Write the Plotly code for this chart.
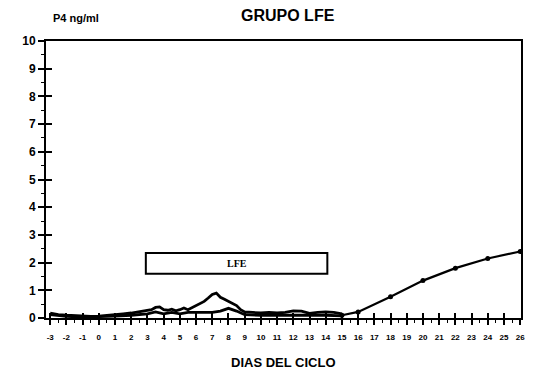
import plotly.graph_objects as go

# --- data ---
days_upper = [-3, -2.5, -2, -1.5, -1, -0.5, 0, 0.5, 1, 1.5, 2, 2.5, 3, 3.25, 3.5, 3.75, 4, 4.25, 4.5,
              4.75, 5, 5.25, 5.5, 5.75, 6, 6.25, 6.5, 6.75, 7, 7.25, 7.5, 7.75, 8, 8.25, 8.5, 8.75,
              9, 9.5, 10, 10.5, 11, 11.5, 12, 12.5, 13, 13.5, 14, 14.5, 15]
p4_upper = [0.18, 0.12, 0.10, 0.08, 0.07, 0.06, 0.07, 0.09, 0.12, 0.15, 0.18, 0.22, 0.28, 0.30, 0.38,
            0.40, 0.30, 0.28, 0.32, 0.26, 0.30, 0.36, 0.30, 0.38, 0.45, 0.52, 0.60, 0.72, 0.85, 0.90,
            0.75, 0.68, 0.60, 0.50, 0.45, 0.30, 0.22, 0.20, 0.18, 0.20, 0.18, 0.20, 0.26, 0.25, 0.17,
            0.20, 0.22, 0.20, 0.15]
days_lower = [-3, -2, -1, 0, 1, 2, 3, 3.5, 4, 4.5, 5, 5.5, 6, 6.5, 7, 7.5, 8, 8.5, 9, 10, 11, 12, 13,
              14, 15]
p4_lower = [0.12, 0.06, 0.03, 0.04, 0.07, 0.10, 0.15, 0.22, 0.15, 0.20, 0.15, 0.20, 0.20, 0.22, 0.20,
            0.25, 0.35, 0.25, 0.12, 0.10, 0.10, 0.12, 0.10, 0.10, 0.08]
days_late = [15, 16, 18, 20, 22, 24, 26]
p4_late = [0.10, 0.22, 0.77, 1.35, 1.80, 2.15, 2.40]

lfe_start, lfe_end = 2.9, 14.1
lfe_low, lfe_high = 1.6, 2.35
lfe_label = "LFE"

x_ticks = list(range(-3, 27))
y_ticks = list(range(0, 11))

title = "GRUPO LFE"
y_title = "P4 ng/ml"
x_title = "DIAS DEL CICLO"

FONT = "Liberation Sans"

fig = go.Figure()
fig.add_trace(go.Scatter(x=days_upper, y=p4_upper, mode="lines",
                         line=dict(color="black", width=2.8), showlegend=False))
fig.add_trace(go.Scatter(x=days_lower, y=p4_lower, mode="lines",
                         line=dict(color="black", width=2.8), showlegend=False))
fig.add_trace(go.Scatter(x=days_late, y=p4_late, mode="lines+markers",
                         line=dict(color="black", width=2.2),
                         marker=dict(color="black", size=5), showlegend=False))
# dummy trace on overlaid axes for crossing ticks
fig.add_trace(go.Scatter(x=[None], y=[None], xaxis="x2", yaxis="y2", showlegend=False))

fig.add_shape(type="rect", x0=lfe_start, x1=lfe_end, y0=lfe_low, y1=lfe_high,
              line=dict(color="black", width=2), fillcolor="white")
fig.add_annotation(x=(lfe_start + lfe_end) / 2, y=(lfe_low + lfe_high) / 2, text="<b>" + lfe_label + "</b>",
                   showarrow=False, font=dict(family="Liberation Serif", size=10, color="black"))

xr = [-3.26, 26.05]
yr = [0, 10]
W, H = 525, 362
fig.update_layout(
    width=W, height=H,
    margin=dict(l=38, r=8, t=33, b=52),
    paper_bgcolor="white", plot_bgcolor="white",
    xaxis=dict(range=xr, showgrid=False, zeroline=False, showline=True, linecolor="black", linewidth=2,
               mirror=True, tickvals=x_ticks, ticktext=[f"<b>{t}</b>" for t in x_ticks],
               ticks="outside", ticklen=5, tickwidth=1.5, tickcolor="black", ticklabelstandoff=5,
               ticklabeloverflow="allow",
               tickfont=dict(family=FONT, size=8, color="black"),
               minor=dict(dtick=0.5, tick0=-3, ticks="outside", ticklen=3, tickcolor="black", tickwidth=1)),
    yaxis=dict(range=yr, showgrid=False, zeroline=False, showline=True, linecolor="black", linewidth=2,
               mirror=True, tickvals=y_ticks, ticktext=[f"<b>{t}</b>" for t in y_ticks],
               ticks="outside", ticklen=6, tickwidth=1.5, tickcolor="black",
               tickfont=dict(family=FONT, size=12, color="black"),
               minor=dict(dtick=0.5, ticks="outside", ticklen=3, tickcolor="black", tickwidth=1)),
    xaxis2=dict(range=xr, overlaying="x", showgrid=False, zeroline=False, showticklabels=False,
                tickvals=x_ticks, ticks="inside", ticklen=5, tickwidth=1.5, tickcolor="black", side="bottom"),
    yaxis2=dict(range=yr, overlaying="y", showgrid=False, zeroline=False, showticklabels=False,
                tickvals=y_ticks, ticks="inside", ticklen=6, tickwidth=1.5, tickcolor="black", side="left"),
    annotations=list(fig.layout.annotations) + [
        dict(text="<b>" + title + "</b>", xref="paper", yref="paper", x=0.51, y=1.0,
             xanchor="center", yanchor="top", yshift=36, showarrow=False,
             font=dict(family=FONT, size=16, color="black")),
        dict(text="<b>" + y_title + "</b>", xref="paper", yref="paper", x=0.01, y=1.0,
             xanchor="left", yanchor="middle", yshift=23, showarrow=False,
             font=dict(family=FONT, size=11, color="black")),
        dict(text="<b>" + x_title + "</b>", xref="paper", yref="paper", x=0.5, y=0.0,
             xanchor="center", yanchor="middle", yshift=-44, showarrow=False,
             font=dict(family=FONT, size=13, color="black")),
    ],
)

fig.write_html("out.html")
